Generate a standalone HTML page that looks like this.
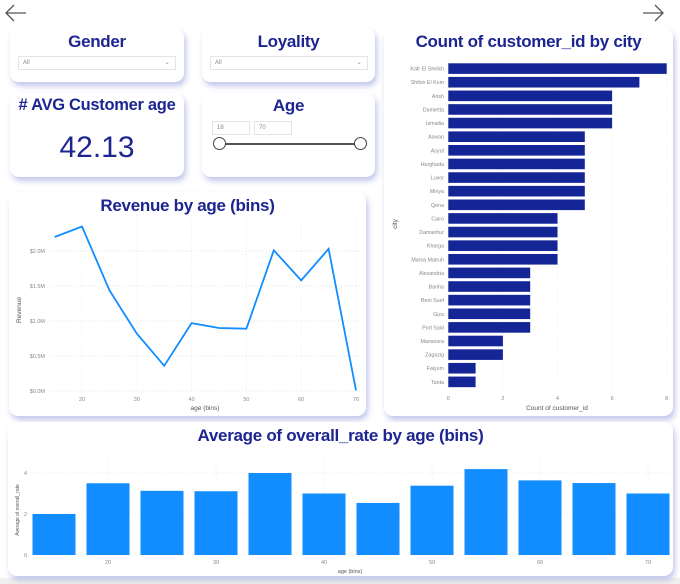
<!DOCTYPE html>
<html><head><meta charset="utf-8">
<style>
*{margin:0;padding:0;box-sizing:border-box}
body{width:680px;height:584px;background:#fff;position:relative;overflow:hidden;font-family:"Liberation Sans",sans-serif}
.card{position:absolute;background:#fff;border-radius:9px;box-shadow:2px 4px 6px rgba(120,130,210,.45)}
.title{position:absolute;left:0;right:0;text-align:center;color:#1c2590;font-weight:bold;font-size:17px;letter-spacing:-0.3px}
.dd{position:absolute;height:14px;border:1px solid #e4e4e4;font-size:6px;color:#888;padding:3px 4px}
.dd span{position:absolute;right:5px;top:1px;font-size:7px;color:#999}
.gray{position:absolute;left:0;top:578px;width:680px;height:6px;background:#efefef}
svg text{font-family:"Liberation Sans",sans-serif}
</style></head><body>
<div class="gray"></div>
<svg style="position:absolute;left:4px;top:3px" width="24" height="20"><path d="M22 10H2M10 2L2 10L10 18" stroke="#555" stroke-width="1.3" fill="none"/></svg>
<svg style="position:absolute;left:642px;top:3px" width="24" height="20"><path d="M1 10H21M13 2L21 10L13 18" stroke="#555" stroke-width="1.3" fill="none"/></svg>

<div class="card" style="left:10px;top:28px;width:174px;height:54px">
<div class="title" style="top:4px">Gender</div>
<div class="dd" style="left:8px;top:28px;width:158px">All<span>⌄</span></div>
</div>
<div class="card" style="left:202px;top:28px;width:173px;height:54px">
<div class="title" style="top:4px">Loyality</div>
<div class="dd" style="left:8px;top:28px;width:158px">All<span>⌄</span></div>
</div>
<div class="card" style="left:10px;top:93px;width:174px;height:84px">
<div class="title" style="top:3px;font-size:16.5px"># AVG Customer age</div>
<div style="position:absolute;left:0;right:0;top:38px;text-align:center;color:#1c2590;font-size:30px">42.13</div>
</div>
<div class="card" style="left:202px;top:93px;width:173px;height:84px">
<div class="title" style="top:3px">Age</div>
<div class="dd" style="left:10px;top:28px;width:38px">18</div>
<div class="dd" style="left:52px;top:28px;width:38px">70</div>
<div style="position:absolute;left:18px;top:50px;width:140px;height:1.5px;background:#555"></div>
<div style="position:absolute;left:11px;top:44px;width:13px;height:13px;border:1px solid #444;border-radius:50%;background:#fff"></div>
<div style="position:absolute;left:152px;top:44px;width:13px;height:13px;border:1px solid #444;border-radius:50%;background:#fff"></div>
</div>

<div class="card" style="left:9px;top:192px;width:357px;height:224px">
<div class="title" style="top:4px">Revenue by age (bins)</div>
</div>
<div class="card" style="left:384px;top:28px;width:289px;height:388px">
<div class="title" style="top:4px">Count of customer_id by city</div>
</div>
<div class="card" style="left:8px;top:422px;width:665px;height:154px">
<div class="title" style="top:4px">Average of overall_rate by age (bins)</div>
</div>

<svg id="svg" width="680" height="584" style="position:absolute;left:0;top:0">
<g id="rev"></g><g id="city"></g><g id="rate"></g>
</svg>
<script>
const revAges=[15,20,25,30,35,40,45,50,55,60,65,70];
const revValues=[2.2,2.35,1.44,0.82,0.36,0.97,0.90,0.89,2.01,1.58,2.03,0.01];
const revTicks=[0,0.5,1.0,1.5,2.0];
const revXTicks=[20,30,40,50,60,70];
const cities=["Kafr El Sheikh","Shibin El Kom","Arish","Damietta","Ismailia","Aswan","Asyut","Hurghada","Luxor","Minya","Qena","Cairo","Damanhur","Kharga","Marsa Matruh","Alexandria","Banha","Beni Suef","Giza","Port Said","Mansoura","Zagazig","Faiyum","Tanta"];
const cityCounts=[8,7,6,6,6,5,5,5,5,5,5,4,4,4,4,3,3,3,3,3,2,2,1,1];
const cityTicks=[0,2,4,6,8];
const rateAges=[15,20,25,30,35,40,45,50,55,60,65,70];
const rateValues=[2.0,3.5,3.13,3.11,4.0,3.0,2.54,3.38,4.19,3.64,3.51,3.0];
const rateYTicks=[0,2,4];
const rateXTicks=[20,30,40,50,60,70];

const NS="http://www.w3.org/2000/svg";
function mk(p,t,a){const e=document.createElementNS(NS,t);for(const k in a)e.setAttribute(k,a[k]);p.appendChild(e);return e;}
function tx(p,x,y,s,o){const e=mk(p,'text',Object.assign({x:x,y:y,'font-size':5.5,fill:'#888'},o||{}));e.textContent=s;return e;}

// Revenue line chart
const rev=document.getElementById('rev');
const rx=v=>54.6+(v-15)*5.48, ry=v=>391-v*70;
revTicks.forEach(t=>{
 const l=mk(rev,'line',{x1:50,x2:360,y1:ry(t),y2:ry(t),stroke:'#e6e6e6','stroke-dasharray':'1,2'});
 
 const e=tx(rev,45,ry(t)+2,'$'+t.toFixed(1)+'M',{'text-anchor':'end'});
 
});
revXTicks.forEach(t=>{
 mk(rev,'line',{x1:rx(t),x2:rx(t),y1:215,y2:391,stroke:'#eee','stroke-dasharray':'1,2'});
 const e=tx(rev,rx(t),401,String(t),{'text-anchor':'middle'});
 
});
const pl=mk(rev,'polyline',{points:revAges.map((a,i)=>rx(a)+','+ry(revValues[i])).join(' '),fill:'none',stroke:'#118dff','stroke-width':1.8});

let e=tx(rev,205,410,'age (bins)',{'text-anchor':'middle','font-size':6.5,fill:'#555'});

e=tx(rev,0,0,'Revenue',{'text-anchor':'middle','font-size':6.5,fill:'#555',transform:'translate(21,310) rotate(-90)'});


// City bar chart
const city=document.getElementById('city');
const cx=v=>448.3+v*27.3, cy=i=>63.3+i*13.62;
cityTicks.forEach(t=>{
 mk(city,'line',{x1:cx(t),x2:cx(t),y1:60,y2:390,stroke:'#eee','stroke-dasharray':'1,2'});
 const e=tx(city,cx(t),400,String(t),{'text-anchor':'middle'});
 
});
cities.forEach((c,i)=>{
 const r=mk(city,'rect',{x:cx(0),y:cy(i),width:cx(cityCounts[i])-cx(0),height:10.6,fill:'#142596'});
 
 const e=tx(city,444,cy(i)+7.3,c,{'text-anchor':'end','font-size':5.3});
 
});
e=tx(city,557,410,'Count of customer_id',{'text-anchor':'middle','font-size':6.5,fill:'#555'});

e=tx(city,0,0,'city',{'text-anchor':'middle','font-size':6.5,fill:'#555',transform:'translate(397,224) rotate(-90)'});


// Rate bar chart
const rate=document.getElementById('rate');
const bx=v=>54+(v-15)*10.8, by=v=>555-v*20.5;
rateYTicks.forEach(t=>{
 mk(rate,'line',{x1:30,x2:670,y1:by(t),y2:by(t),stroke:'#eee','stroke-dasharray':'1,2'});
 const e=tx(rate,27,by(t)+2,String(t),{'text-anchor':'end'});
 
});
rateXTicks.forEach(t=>{
 mk(rate,'line',{x1:bx(t),x2:bx(t),y1:455,y2:555,stroke:'#eee','stroke-dasharray':'1,2'});
 const e=tx(rate,bx(t),564,String(t),{'text-anchor':'middle'});
 
});
rateAges.forEach((a,i)=>{
 const r=mk(rate,'rect',{x:bx(a)-21.5,y:by(rateValues[i]),width:43,height:by(0)-by(rateValues[i]),fill:'#118dff'});
 
});
e=tx(rate,350,573,'age (bins)',{'text-anchor':'middle','font-size':5.5,fill:'#555'});

e=tx(rate,0,0,'Average of overall_rate',{'text-anchor':'middle','font-size':5,fill:'#555',transform:'translate(19,510) rotate(-90)'});

</script>
</body></html>
